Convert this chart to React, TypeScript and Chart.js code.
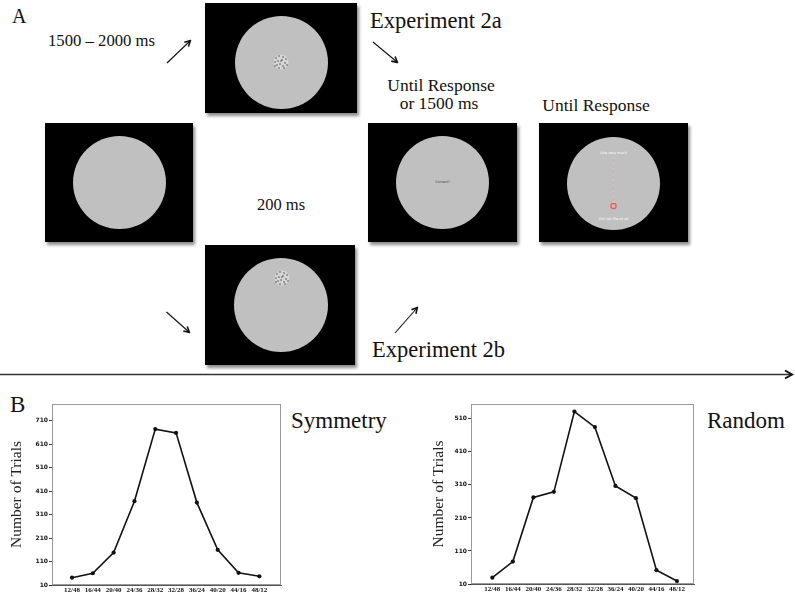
import React, { useEffect, useRef } from "react";
import { Chart, registerables } from "chart.js";

Chart.register(...registerables);

// ---- data ----
const categories = ["12/48", "16/44", "20/40", "24/36", "28/32", "32/28", "36/24", "40/20", "44/16", "48/12"];
const symmetryValues = [41, 60, 148, 367, 674, 658, 361, 160, 62, 47];
const randomValues = [29, 78, 272, 289, 532, 485, 307, 270, 52, 19];
const symmetryYTicks = [10, 110, 210, 310, 410, 510, 610, 710];
const randomYTicks = [10, 110, 210, 310, 410, 510];
const yAxisTitle = "Number of Trials";

const SERIF = "'Liberation Serif', 'Times New Roman', serif";

const boxPlugin = {
  id: "plotBox",
  beforeDatasetsDraw(chart: any) {
    const { ctx, chartArea } = chart;
    const { left, top, right, bottom } = chartArea;
    ctx.save();
    ctx.strokeStyle = "#9a9a9a";
    ctx.lineWidth = 1;
    ctx.strokeRect(Math.round(left) + 0.5, Math.round(top) + 0.5, Math.round(right - left) - 1, Math.round(bottom - top) - 1);
    ctx.restore();
  },
};

type ChartSpec = {
  values: number[];
  yTicks: number[];
  yMax: number;
  xMin: number;
  xMax: number;
  axisWidth: number;
  axisHeight: number;
  padTop: number;
  padRight: number;
  titlePad: number;
};

function TrialsChart(props: ChartSpec & { left: number; top: number; width: number; height: number }) {
  const ref = useRef<HTMLCanvasElement | null>(null);
  useEffect(() => {
    if (!ref.current) return;
    const p = props;
    const chart = new Chart(ref.current, {
      type: "line",
      data: {
        datasets: [
          {
            data: p.values.map((v, i) => ({ x: i, y: v })),
            borderColor: "#111",
            borderWidth: 1.6,
            pointRadius: 2.1,
            pointBorderWidth: 0,
            pointBackgroundColor: "#111",
            pointBorderColor: "#111",
            tension: 0,
          },
        ],
      },
      options: {
        animation: false,
        responsive: false,
        maintainAspectRatio: false,
        layout: { padding: { top: p.padTop, right: p.padRight, left: 0, bottom: 0 } },
        plugins: { legend: { display: false }, tooltip: { enabled: false } },
        scales: {
          x: {
            type: "linear",
            min: p.xMin,
            max: p.xMax,
            afterBuildTicks: (s: any) => {
              s.ticks = categories.map((_, i) => ({ value: i }));
            },
            afterFit: (s: any) => {
              s.height = p.axisHeight;
            },
            ticks: {
              callback: (v: any) => categories[Math.round(Number(v))] ?? "",
              font: { family: SERIF, size: 7, weight: "bold" },
              color: "#111",
              padding: 1,
              maxRotation: 0,
              minRotation: 0,
              autoSkip: false,
            },
            grid: { display: false, drawTicks: false },
            border: { display: true, color: "#555" },
          },
          y: {
            type: "linear",
            min: 10,
            max: p.yMax,
            afterBuildTicks: (s: any) => {
              s.ticks = p.yTicks.map((v) => ({ value: v }));
            },
            afterFit: (s: any) => {
              s.width = p.axisWidth;
            },
            ticks: {
              font: { family: "'DejaVu Sans', sans-serif", size: 6, weight: "bold" },
              color: "#111",
              padding: 1,
            },
            grid: { display: true, drawOnChartArea: false, drawTicks: true, tickLength: 3, color: "#333" },
            border: { display: true, color: "#555" },
            title: {
              display: true,
              text: yAxisTitle,
              font: { family: SERIF, size: 15.5 },
              color: "#222",
              padding: { top: p.titlePad, bottom: 0 },
            },
          },
        },
      } as any,
      plugins: [boxPlugin],
    });
    return () => chart.destroy();
  }, []);
  return (
    <canvas
      ref={ref}
      width={props.width}
      height={props.height}
      style={{ position: "absolute", left: props.left, top: props.top, width: props.width, height: props.height }}
    />
  );
}

function Screen({ x, y, w, h, cx, cy, r, children }: any) {
  return (
    <div
      style={{
        position: "absolute",
        left: x,
        top: y,
        width: w,
        height: h,
        background: "#000",
        boxShadow: "2px 3px 3px rgba(0,0,0,0.45)",
      }}
    >
      <div
        style={{
          position: "absolute",
          left: cx - x - r,
          top: cy - y - r,
          width: 2 * r,
          height: 2 * r,
          borderRadius: "50%",
          background: "#c0c0c0",
        }}
      />
      {children}
    </div>
  );
}

function Label({ text, left, top, size, center, width }: any) {
  return (
    <div
      style={{
        position: "absolute",
        left,
        top,
        width: width,
        textAlign: center ? "center" : "left",
        fontFamily: SERIF,
        fontSize: size,
        lineHeight: 1,
        color: "#111",
        whiteSpace: "nowrap",
      }}
    >
      {text}
    </div>
  );
}

function DotPatch({ cx, cy }: any) {
  const pts = [
    [-5, -4], [-2, -6], [2, -5], [5, -3], [-6, 0], [-3, -1], [1, -2], [4, 1],
    [6, 3], [-4, 3], [-1, 2], [2, 4], [-2, 6], [3, 6], [0, -1], [-6, 4],
  ];
  return (
    <g>
      <circle cx={cx} cy={cy} r={7.5} fill="#d6d6d6" />
      {pts.map((p, i) => (
        <circle key={i} cx={cx + p[0]} cy={cy + p[1]} r={0.7} fill="#333" />
      ))}
    </g>
  );
}

export default function App() {
  const arrows = [
    [167, 63, 190, 41],
    [373, 42, 397, 62],
    [166.5, 312, 189, 332],
    [395, 333, 417, 308],
  ];
  const ratingDots = [158, 163.5, 169, 174.5, 180, 185.5, 191, 196.5, 202];
  return (
    <div
      style={{
        position: "fixed",
        left: 0,
        top: 0,
        width: 795,
        height: 597,
        background: "#fff",
        overflow: "hidden",
      }}
    >
      {/* Panel A */}
      <Label text="A" left={12} top={6.3} size={20} />
      <Label text="1500 – 2000 ms" left={48} top={33} size={16.7} />
      <Label text="Experiment 2a" left={370} top={9.5} size={22.5} />
      <Label text="Until Response" left={341} width={200} center top={77.3} size={17.5} />
      <Label text="or 1500 ms" left={339} width={200} center top={94.8} size={17.5} />
      <Label text="Until Response" left={496} width={200} center top={96.9} size={17.5} />
      <Label text="200 ms" left={231} width={100} center top={197.2} size={16.5} />
      <Label text="Experiment 2b" left={372} top={339.2} size={22.5} />

      <Screen x={205} y={3} w={152} h={110} cx={281} cy={62} r={46.5} />
      <Screen x={45} y={123} w={148} h={119} cx={119} cy={182.5} r={46.5} />
      <Screen x={368} y={123} w={149} h={119} cx={442.5} cy={182.5} r={46.5}>
        <div
          style={{
            position: "absolute",
            left: 0,
            width: 149,
            top: 57,
            textAlign: "center",
            fontFamily: "'DejaVu Sans', sans-serif",
            fontSize: 3.5,
            color: "#444",
          }}
        >
          Correct?
        </div>
      </Screen>
      <Screen x={539} y={123} w={149} h={119} cx={613.5} cy={183} r={46.5}>
        <div
          style={{
            position: "absolute",
            left: 0,
            width: 149,
            top: 28,
            textAlign: "center",
            fontFamily: "'DejaVu Sans', sans-serif",
            fontSize: 3.5,
            color: "#fff",
          }}
        >
          Like very much
        </div>
        <div
          style={{
            position: "absolute",
            left: 0,
            width: 149,
            top: 94,
            textAlign: "center",
            fontFamily: "'DejaVu Sans', sans-serif",
            fontSize: 3.5,
            color: "#fff",
          }}
        >
          Did not like at all
        </div>
      </Screen>
      <Screen x={205} y={245} w={150} h={120} cx={280.5} cy={305} r={47} />

      <svg
        width={795}
        height={597}
        style={{ position: "absolute", left: 0, top: 0, pointerEvents: "none" }}
      >
        <defs>
          <marker id="ah" markerWidth="8" markerHeight="8" refX="6" refY="4" orient="auto" markerUnits="userSpaceOnUse">
            <path d="M1,1 L6.5,4 L1,7" fill="none" stroke="#111" strokeWidth="1.6" />
          </marker>
          <marker id="ah2" markerWidth="12" markerHeight="12" refX="9" refY="6" orient="auto" markerUnits="userSpaceOnUse">
            <path d="M2,2 L9,6 L2,10" fill="none" stroke="#111" strokeWidth="2" />
          </marker>
        </defs>
        {arrows.map((a, i) => (
          <line key={i} x1={a[0]} y1={a[1]} x2={a[2]} y2={a[3]} stroke="#111" strokeWidth={1.1} markerEnd="url(#ah)" />
        ))}
        <line x1={0} y1={374.5} x2={792} y2={374.5} stroke="#333" strokeWidth={1.4} markerEnd="url(#ah2)" />
        <DotPatch cx={281} cy={62} />
        <DotPatch cx={282} cy={278} />
        <line x1={613.5} y1={156} x2={613.5} y2={205} stroke="#e8a0a0" strokeWidth={0.6} />
        {ratingDots.map((y, i) => (
          <circle key={i} cx={613.5} cy={y} r={0.9} fill="#f4b8b8" />
        ))}
        <circle cx={613.5} cy={206} r={2.6} fill="none" stroke="#ff5050" strokeWidth={1.2} />
      </svg>

      {/* Panel B */}
      <Label text="B" left={10} top={393} size={23} />
      <Label text="Symmetry" left={291} top={408.7} size={23} />
      <Label text="Random" left={707} top={408.7} size={23} />

      <TrialsChart
        left={0}
        top={395}
        width={290}
        height={202}
        values={symmetryValues}
        yTicks={symmetryYTicks}
        yMax={781}
        xMin={-0.96}
        xMax={10.04}
        axisWidth={52}
        axisHeight={12}
        padTop={9}
        padRight={9}
        titlePad={8}
      />
      <TrialsChart
        left={420}
        top={395}
        width={280}
        height={202}
        values={randomValues}
        yTicks={randomYTicks}
        yMax={555}
        xMin={-1.04}
        xMax={9.83}
        axisWidth={51}
        axisHeight={13}
        padTop={9}
        padRight={6}
        titlePad={9.5}
      />
    </div>
  );
}
